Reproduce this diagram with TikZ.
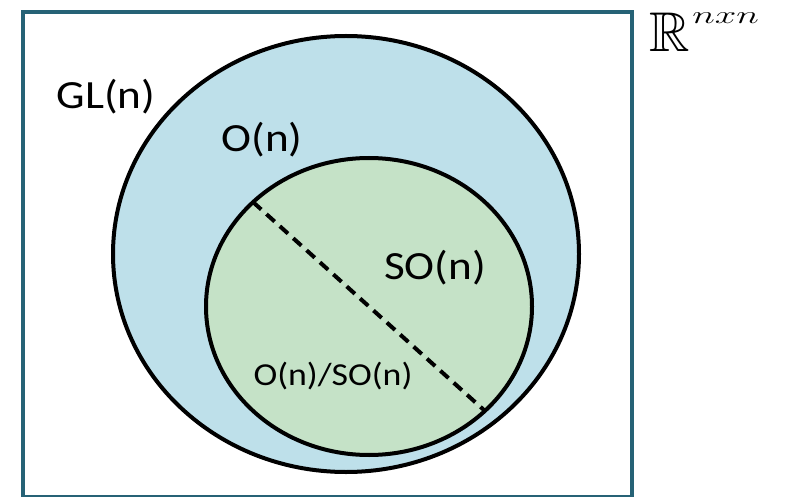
\documentclass[tikz,border=0pt]{standalone}
\usepackage{amsmath, amssymb}
\usepackage{fontspec}
\setmainfont{Carlito}
\usepackage{xcolor}
\usepackage{tikz}
\usetikzlibrary{shapes.geometric}
\definecolor{frame}{RGB}{38,98,118}
\definecolor{glfill}{RGB}{190,224,234}
\definecolor{sofill}{RGB}{197,226,199}

\begin{document}
\begin{tikzpicture}[
  x=1pt, y=-1pt,
  group/.style={ellipse, draw=black, line width=4pt, inner sep=0, outer sep=0},
  lbl/.style={font=\fontsize{40}{48}\selectfont, xscale=1.13, transform shape, inner sep=0},
  small/.style={font=\fontsize{32}{38}\selectfont, xscale=1.12, transform shape, inner sep=0},
  cut/.style={line width=4pt, dash pattern=on 11pt off 7pt},
]
\useasboundingbox (0,0) rectangle (787,497);

% Ambient space
\draw[frame, line width=4pt] (23,12) rectangle (632,497);
\node[anchor=base west, inner sep=0, font=\fontsize{56}{60}\selectfont] (rnn) at (649,52) {$\mathbb{R}$};
\node[anchor=base west, inner sep=0, font=\fontsize{27}{30}\selectfont, xscale=1.55, transform shape] (rexp) at (692,24) {$nxn$};

% Groups
\node[group, fill=glfill, minimum width=466pt, minimum height=436pt] (gl) at (346,254) {};
\node[group, fill=sofill, minimum width=326pt, minimum height=297pt] (so) at (369,306.5) {};

% Cut through SO(n)
\draw[cut] (so.138) -- (so.-42);

% Labels
\node[lbl] (gllabel) at (106,97) {GL(n)};
\node[lbl] (olabel) at (262,140) {O(n)};
\node[lbl] (solabel) at (435,268) {SO(n)};
\node[small] (qlabel) at (333,376) {O(n)/SO(n)};

\end{tikzpicture}
\end{document}
